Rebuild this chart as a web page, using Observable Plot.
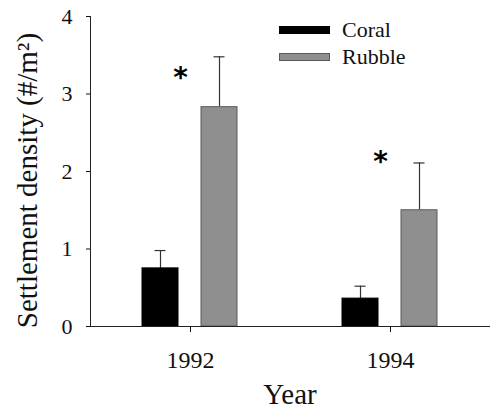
<!DOCTYPE html>
<html>
<head>
<meta charset="utf-8">
<script src="https://cdn.jsdelivr.net/npm/d3@7"></script>
<script src="https://cdn.jsdelivr.net/npm/@observablehq/plot@0.6"></script>
<style>
  html, body { margin: 0; padding: 0; background: #fff; }
  #wrap { position: relative; width: 492px; height: 412px; }
  #legend { position: absolute; left: 279px; top: 16px; font-family: "Liberation Serif", "Times New Roman", serif; font-size: 22px; color: #111; }
  .item { display: flex; align-items: center; height: 27px; }
  .sw { width: 51px; height: 8px; margin-right: 12px; box-sizing: border-box; }
</style>
</head>
<body>
<div id="wrap"></div>
<script>
const years = ["1992", "1994"];
const types = ["Coral", "Rubble"];
const coral = [0.75, 0.36];
const coralSE = [0.23, 0.16];
const rubble = [2.83, 1.50];
const rubbleSE = [0.65, 0.61];
const starY = [3.21, 2.12];
const yTicks = [0, 1, 2, 3, 4];
const colors = ["#000000", "#8f8f8f"];
const strokes = ["#000000", "#5a5a5a"];

const data = [];
years.forEach((yr, i) => {
  data.push({year: yr, type: "Coral", value: coral[i], se: coralSE[i]});
  data.push({year: yr, type: "Rubble", value: rubble[i], se: rubbleSE[i]});
});
const stars = years.map((yr, i) => ({year: yr, y: starY[i]}));

const serif = "'Liberation Serif', 'Times New Roman', serif";

const plot = Plot.plot({
  width: 492,
  height: 412,
  marginLeft: 90,
  marginRight: 2,
  marginTop: 16,
  marginBottom: 86,
  style: {fontFamily: serif, color: "#111", background: "#fff"},
  fx: {domain: years, padding: 0},
  x: {domain: types, paddingInner: 0.387, paddingOuter: 0.874, axis: null},
  y: {domain: [0, 4]},
  color: {domain: types, range: colors},
  marks: [
    Plot.ruleX(data, {fx: "year", x: "type", y1: "value", y2: d => d.value + d.se, stroke: "#333", strokeWidth: 1.2}),
    Plot.tickY(data, {fx: "year", x: "type", y: d => d.value + d.se, stroke: "#333", strokeWidth: 1.2, insetLeft: 12.5, insetRight: 12.5}),
    Plot.barY(data, {fx: "year", x: "type", y: "value", fill: "type", stroke: d => strokes[types.indexOf(d.type)], strokeWidth: 1}),
    Plot.text(stars, {fx: "year", y: "y", text: () => "*", dx: -10, fontSize: 28, fontWeight: "bold", fontFamily: "DejaVu Sans", fill: "#000"}),
    Plot.ruleY([0], {stroke: "#222", strokeWidth: 1}),
    Plot.frame({anchor: "left", facetAnchor: "left", stroke: "#222"}),
    Plot.axisY({ticks: yTicks, tickFormat: d => String(d), tickSize: 4, tickPadding: 14, fontSize: 22, fontFamily: serif, label: null}),
    Plot.axisFx({anchor: "bottom", tickSize: 6, tickPadding: 18, fontSize: 24, fontFamily: serif, label: null}),
    Plot.text(["Settlement density (#/m²)"], {frameAnchor: "left", facetAnchor: "left", textAnchor: "middle", rotate: -90, dx: -63, dy: 9, fontSize: 29, fontFamily: serif, fill: "#111"})
  ]
});
document.getElementById("wrap").appendChild(plot);

const legend = document.createElement("div");
legend.id = "legend";
types.forEach((t, i) => {
  const it = document.createElement("div");
  it.className = "item";
  const sw = document.createElement("div");
  sw.className = "sw";
  sw.style.background = colors[i];
  sw.style.border = "1px solid " + strokes[i];
  const lab = document.createElement("span");
  lab.textContent = t;
  lab.style.fontFamily = serif;
  it.appendChild(sw);
  it.appendChild(lab);
  legend.appendChild(it);
});
document.getElementById("wrap").appendChild(legend);

const yearLabel = document.createElement("div");
yearLabel.textContent = "Year";
yearLabel.style.cssText = "position:absolute;left:90px;width:400px;top:378px;text-align:center;font-family:" + serif + ";font-size:29px;color:#111;";
document.getElementById("wrap").appendChild(yearLabel);
</script>
</body>
</html>
